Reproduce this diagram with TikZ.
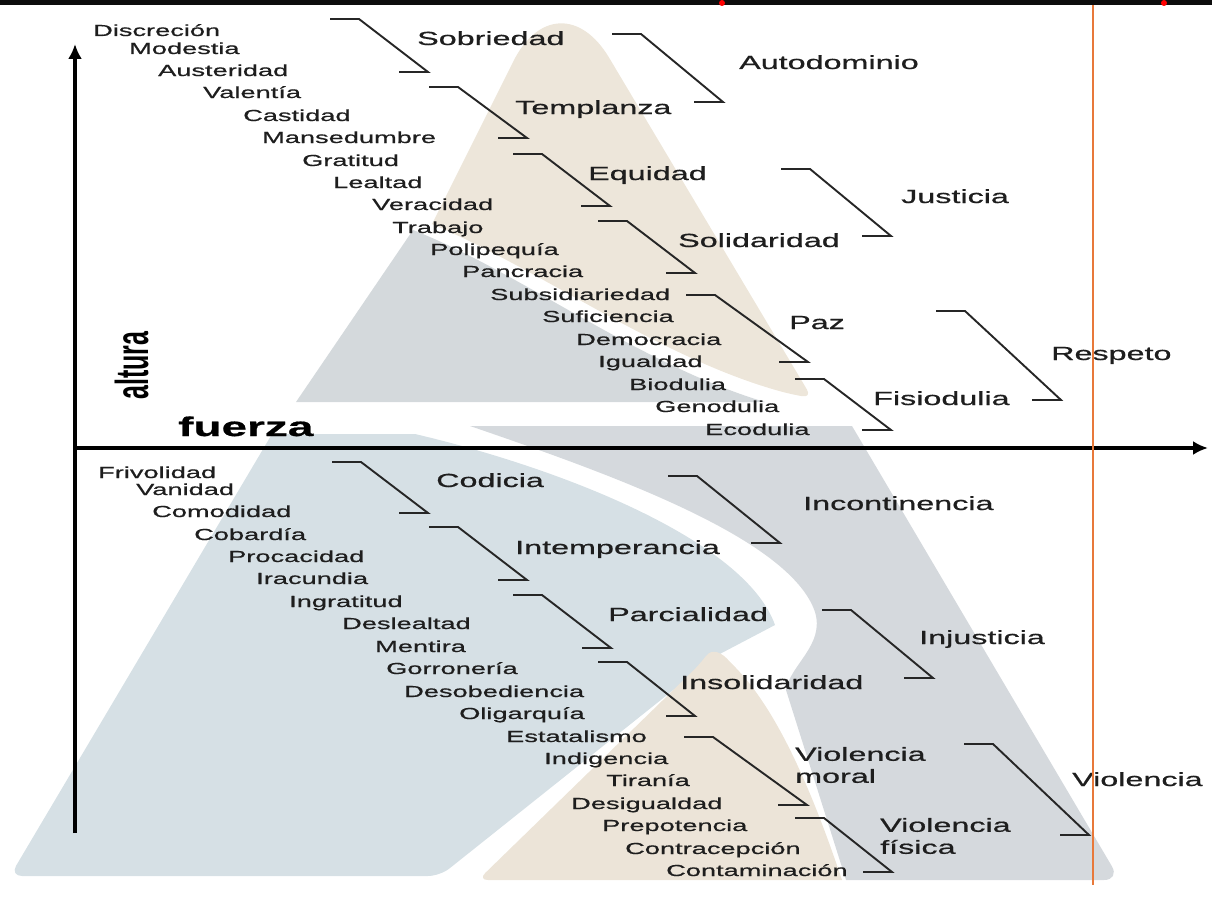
\documentclass[tikz,border=0pt]{standalone}
\usepackage{graphicx}
\usepackage{fontspec}
\setmainfont[FakeStretch=1.7, FakeBold=0.7]{Liberation Sans}
\newfontfamily\axisfont{Liberation Sans}
\usetikzlibrary{arrows.meta}

\definecolor{sandtop}{HTML}{EDE6DA}
\definecolor{slatetop}{HTML}{D4D9DC}
\definecolor{mistblue}{HTML}{D6E0E5}
\definecolor{slateleg}{HTML}{D5D9DD}
\definecolor{sandlow}{HTML}{ECE4D8}
\definecolor{inkgray}{HTML}{1E1E1E}
\definecolor{markorange}{HTML}{E8793A}

\tikzset{
  word/.style={anchor=base west, inner sep=0pt, text=inkgray, font=\fontsize{16}{18}\selectfont},
  virtue/.style={word, font=\fontsize{19}{22}\selectfont},
  pair/.style={virtue, anchor=west, align=left},
  brace/.style={line width=1.9pt, draw=black!85},
  axis/.style={line width=4pt, -{Latex[length=15pt,width=14pt]}},
}

\begin{document}
\begin{tikzpicture}[x=1pt, y=-1pt]
	\useasboundingbox (0,0) rectangle (1212,899);

	% logo behind the upper half
	\fill[sandtop] (432,224) [rounded corners=100pt] -- (558,-28) [rounded corners=10pt] -- (812,398) -- (790,394)
		[sharp corners] .. controls (660,358) and (545,272) .. (432,224) -- cycle;
	\fill[slatetop] (296,402) -- (413,230) .. controls (520,272) and (640,365) .. (765,402) -- cycle;

	% logo behind the lower half
	\fill[mistblue] (272,434) -- (415,434) .. controls (560,468) and (745,540) .. (775,625) -- (716,656)
		[rounded corners=12pt] -- (440,876) -- (10,876) [sharp corners] -- cycle;
	\fill[slateleg] (470,426) -- (852,426) [rounded corners=16pt] -- (1120,880) [sharp corners] -- (846,880) -- (786,690)
		.. controls (790,665) and (825,645) .. (815,612) .. controls (790,538) and (610,474) .. (470,426) -- cycle;
	\fill[sandlow] (842,880) [rounded corners=10pt] -- (478,880) -- (700,664) [sharp corners]
		.. controls (712,648) and (722,652) .. (730,662) .. controls (770,700) and (805,770) .. (842,880) -- cycle;

	% axes
	\coordinate (origin) at (75,448);
	\coordinate (ytip) at (75,44);
	\coordinate (ybase) at (75,833);
	\coordinate (xtip) at (1208,448);
	\draw[axis] (ybase) -- (ytip);
	\draw[axis] (origin) -- (xtip);

	% brackets
	\foreach \xa/\ya/\xb/\yb in {330/19/428/72, 429/87/527/138, 513/154/610/206, 598/221/695/273,
			686/295/808/362, 795/379/891/430, 612/34/723/102, 781/169/891/236, 936/311/1061/400,
			332/462/428/513, 429/527/527/580, 513/595/611/648, 598/662/695/716, 684/737/807/805,
			795/818/892/872, 668/476/780/543, 822/610/933/678, 964/744/1089/835}
		\draw[brace] (\xa,\ya) -- ++(29,0) -- (\xb,\yb) -- ++(-29,0);

	% virtues
	\foreach \n/\x/\y/\t in {discrecion/93/36/Discreción, modestia/129/54/Modestia, austeridad/158/76/Austeridad,
			valentia/203/98/Valentía, castidad/243/121/Castidad, mansedumbre/262/143/Mansedumbre,
			gratitud/302/166/Gratitud, lealtad/333/188/Lealtad, veracidad/372/210/Veracidad,
			trabajo/392/233/Trabajo, polipequia/430/255/Polipequía, pancracia/462/277/Pancracia,
			subsidiariedad/490/300/Subsidiariedad, suficiencia/542/322/Suficiencia, democracia/576/345/Democracia,
			igualdad/598/367/Igualdad, biodulia/629/390/Biodulia, genodulia/655/412/Genodulia, ecodulia/705/435/Ecodulia}
		\node[word] (\n) at (\x,\y) {\t};

	% vices
	\foreach \n/\x/\y/\t in {frivolidad/98/478/Frivolidad, vanidad/136/495/Vanidad, comodidad/152/517/Comodidad,
			cobardia/194/540/Cobardía, procacidad/228/562/Procacidad, iracundia/256/584/Iracundia,
			ingratitud/289/607/Ingratitud, deslealtad/342/629/Deslealtad, mentira/375/652/Mentira,
			gorroneria/386/674/Gorronería, desobediencia/404/697/Desobediencia, oligarquia/459/719/Oligarquía,
			estatalismo/506/742/Estatalismo, indigencia/544/764/Indigencia, tirania/606/786/Tiranía,
			desigualdad/571/809/Desigualdad, prepotencia/602/831/Prepotencia, contracepcion/625/854/Contracepción,
			contaminacion/666/876/Contaminación}
		\node[word] (\n) at (\x,\y) {\t};

	% groups
	\foreach \n/\x/\y/\t in {sobriedad/417/45/Sobriedad, templanza/515/114/Templanza, equidad/588/180/Equidad,
			solidaridad/678/247/Solidaridad, paz/789/329/Paz, fisiodulia/873/405/Fisiodulia,
			autodominio/739/69/Autodominio, justicia/901/203/Justicia, respeto/1051/360/Respeto,
			codicia/436/487/Codicia, intemperancia/515/554/Intemperancia, parcialidad/608/621/Parcialidad,
			insolidaridad/680/689/Insolidaridad, incontinencia/803/510/Incontinencia,
			injusticia/919/644/Injusticia, violencia/1072/786/Violencia}
		\node[virtue] (\n) at (\x,\y) {\t};
	\node[pair] (vmoral) at (795,765) {Violencia\\moral};
	\node[pair] (vfisica) at (880,836) {Violencia\\física};

	% axis names
	\node[anchor=base west, inner sep=0pt, font=\fontsize{27}{30}\selectfont\bfseries] (fuerza) at (178,436) {fuerza};
	\node[rotate=90, anchor=base west, inner sep=0pt] (altura) at (148,400)
		{\scalebox{1}[1.85]{\axisfont\bfseries\fontsize{25}{28}\selectfont altura}};

	% marks over the picture
	\draw[markorange, line width=2.4pt] (1093,0) -- (1093,885);
	\fill[black!95] (0,0) rectangle (1212,5);
	\fill[red] (722,3) circle (3pt);
	\fill[red] (1164,3) circle (3pt);
\end{tikzpicture}
\end{document}
